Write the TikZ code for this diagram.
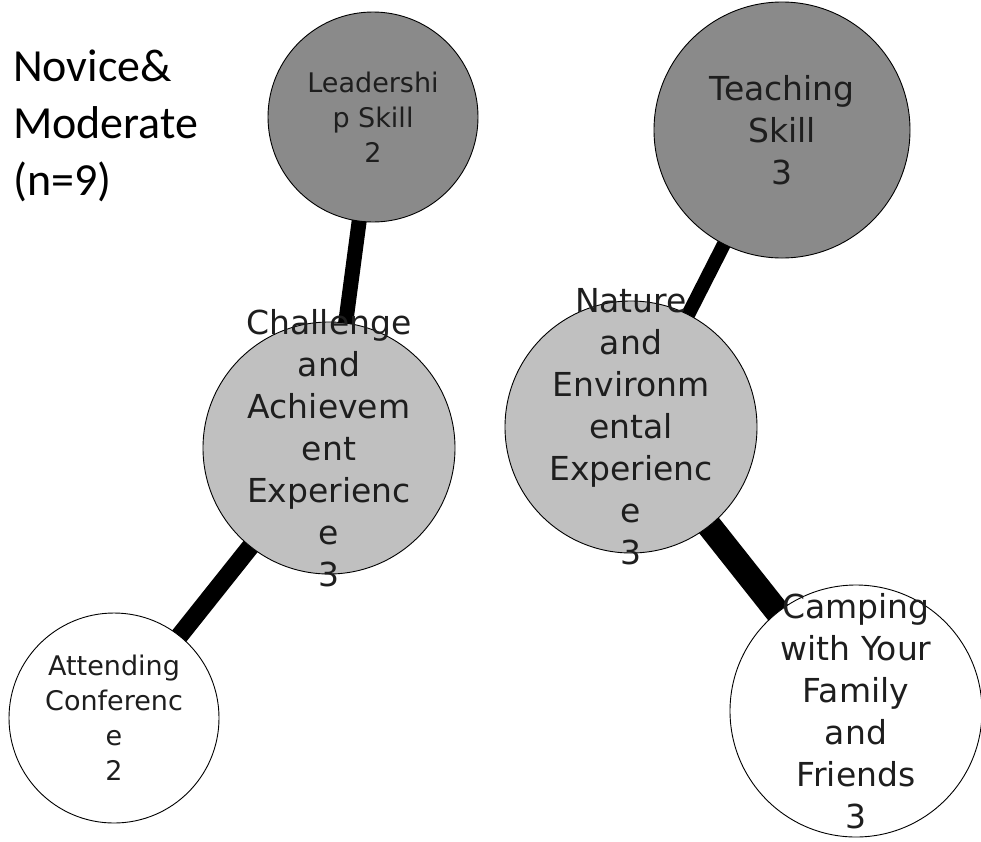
\documentclass[tikz,border=0pt]{standalone}
\usepackage{fontspec}
\setmainfont{Carlito}
\newfontfamily\bubblefont{DejaVu Sans}
\usepackage{tikz}
\usetikzlibrary{positioning,backgrounds}
\definecolor{skillgray}{RGB}{138,138,138}
\definecolor{expgray}{RGB}{192,192,192}
\definecolor{textgray}{RGB}{30,30,30}

\tikzset{
    bubble/.style={circle, draw=black, line width=0.9pt, inner sep=0pt},
    bigtext/.style={align=center, text=textgray, font=\bubblefont\fontsize{33}{42}\selectfont},
    smalltext/.style={align=center, text=textgray, font=\bubblefont\fontsize{27}{35}\selectfont},
    link/.style={draw=black, line cap=butt}
}

\begin{document}
\begin{tikzpicture}[x=1pt, y=-1pt]
    \useasboundingbox (0,0) rectangle (981,841);

    % Group label
    \node[anchor=north west, inner sep=0pt, align=left, font=\fontsize{46}{57}\selectfont] (group) at (13,50) {Novice\&\\Moderate\\(n=9)};

    % Skills on top
    \node[bubble, fill=skillgray, minimum size=210pt, label={[smalltext]center:Leadershi\\p Skill\\2}] (lead) at (373,117) {};
    \node[bubble, fill=skillgray, minimum size=256pt, label={[bigtext]center:Teaching\\Skill\\3}] (teach) at (782,130) {};

    % Experiences in the middle
    \node[bubble, fill=expgray, minimum size=252pt, label={[bigtext]center:Challenge\\and\\Achievem\\ent\\Experienc\\e\\3}] (chal) at (329,448) {};
    \node[bubble, fill=expgray, minimum size=252pt, label={[bigtext]center:Nature\\and\\Environm\\ental\\Experienc\\e\\3}] (nature) at (631,427) {};

    % Activities at the bottom
    \node[bubble, fill=white, minimum size=210pt, label={[smalltext]center:Attending\\Conferenc\\e\\2}] (conf) at (114,718) {};
    \node[bubble, fill=white, minimum size=252pt, label={[bigtext]center:Camping\\with Your\\Family\\and\\Friends\\3}] (camp) at (856,711) {};

    % Connections
    \begin{pgfonlayer}{background}
        \draw[link, line width=15pt] (lead.center) -- (chal.center);
        \draw[link, line width=14pt] (teach.center) -- (nature.center);
        \draw[link, line width=18pt] (chal.center) -- (conf.center);
        \draw[link, line width=25pt] (nature.center) -- (camp.center);
    \end{pgfonlayer}
\end{tikzpicture}
\end{document}
